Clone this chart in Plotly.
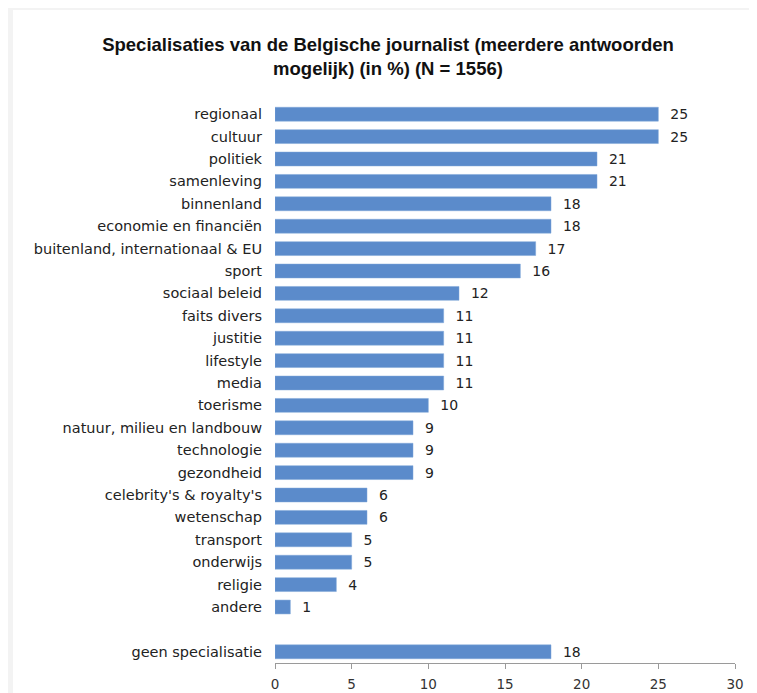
import plotly.graph_objects as go

categories = ["regionaal", "cultuur", "politiek", "samenleving", "binnenland",
              "economie en financiën", "buitenland, internationaal & EU", "sport",
              "sociaal beleid", "faits divers", "justitie", "lifestyle", "media",
              "toerisme", "natuur, milieu en landbouw", "technologie", "gezondheid",
              "celebrity's & royalty's", "wetenschap", "transport", "onderwijs",
              "religie", "andere", " ", "geen specialisatie"]
values = [25, 25, 21, 21, 18, 18, 17, 16, 12, 11, 11, 11, 11, 10, 9, 9, 9,
          6, 6, 5, 5, 4, 1, None, 18]
x_ticks = [0, 5, 10, 15, 20, 25, 30]

W, H = 757, 693
L, R, T, B = 267, 30, 95, 38
pw, ph = W - L - R, H - T - B

fig = go.Figure(go.Bar(
    y=categories, x=values, orientation="h",
    marker=dict(color="#5B8BCB", line=dict(color="#7FA6D8", width=0.5)),
    text=["" if v is None else "\u00a0\u00a0" + str(v) for v in values],
    textposition="outside", cliponaxis=False, constraintext="none",
    textfont=dict(family="DejaVu Sans", size=14, color="#222222"),
    width=0.62,
))

fig.update_layout(
    width=W, height=H,
    margin=dict(l=L, r=R, t=T, b=B, pad=0),
    paper_bgcolor="#f3f3f3", plot_bgcolor="white",
    showlegend=False,
    title=dict(text="<b>Specialisaties van de Belgische journalist (meerdere antwoorden<br>mogelijk) (in %) (N = 1556)</b>",
               x=(380) / W, xanchor="center", y=1 - 43 / H, yanchor="top",
               font=dict(family="Liberation Sans", size=18.5, color="#111111")),
    xaxis=dict(range=[0, 30], tickvals=x_ticks, showgrid=False, zeroline=False,
               showline=True, linecolor="#9a9a9a", linewidth=1,
               ticks="outside", ticklen=5, tickcolor="#9a9a9a",
               ticklabelstandoff=4, automargin=False,
               tickfont=dict(family="DejaVu Sans", size=13.5, color="#333333")),
    yaxis=dict(categoryorder="array", categoryarray=categories, autorange="reversed",
               showgrid=False, zeroline=False, showline=False, ticks="",
               ticklabelstandoff=12, automargin=False,
               tickfont=dict(family="DejaVu Sans", size=14.5, color="#222222")),
    shapes=[dict(type="rect", xref="paper", yref="paper", layer="below",
                 x0=(5 - L) / pw, x1=(747 - L) / pw,
                 y0=-(B + 20) / ph, y1=(H - B - 2) / ph,
                 fillcolor="white", line=dict(width=0))],
)

fig.write_html("out.html")
